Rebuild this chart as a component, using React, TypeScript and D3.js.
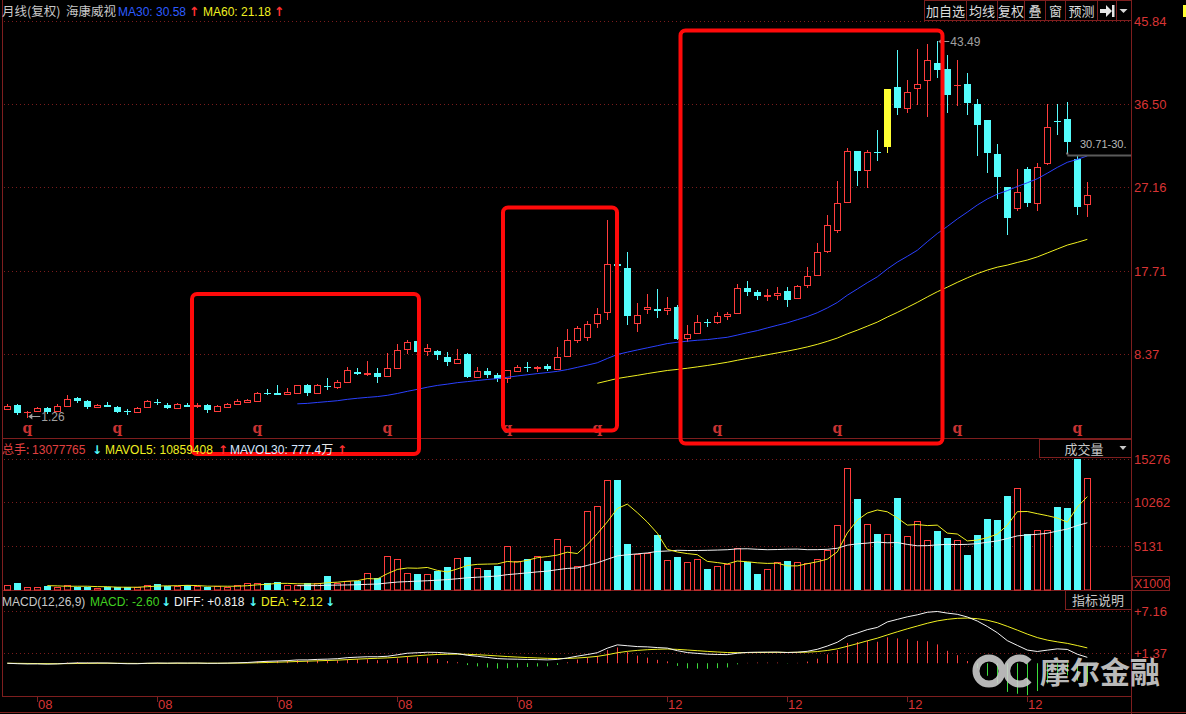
import React from 'react';
import * as d3 from 'd3';

// ---------------- DATA ----------------
const opens = [2.27,2.69,1.88,1.97,2.31,2.05,2.57,3.47,3.10,2.50,2.65,2.46,1.96,1.93,2.46,3.07,2.73,2.35,2.73,2.60,2.65,2.00,2.50,2.80,3.00,3.18,4.00,4.03,3.90,4.07,4.93,4.07,4.85,4.73,5.30,6.40,6.20,6.30,5.90,6.87,8.93,9.86,8.78,8.74,8.07,7.43,8.40,5.86,6.50,6.05,5.68,6.54,6.90,6.87,7.10,6.75,8.20,9.94,10.28,11.85,13.08,18.50,18.05,11.85,13.50,13.50,13.37,13.67,10.16,10.72,12.00,11.96,12.70,13.03,15.77,15.35,14.93,15.00,15.43,14.65,16.17,17.30,19.98,22.34,25.48,31.24,29.07,31.10,31.64,38.33,36.06,38.30,39.20,41.10,40.43,38.55,38.67,36.43,34.64,30.90,27.13,24.74,29.15,25.40,29.85,34.60,34.83,30.34,25.20];
const highs = [2.75,2.77,2.00,2.50,2.44,2.79,3.84,3.62,3.25,2.80,3.00,2.60,2.20,2.45,3.25,3.35,2.88,2.85,2.90,2.90,2.80,2.65,2.90,3.30,3.40,4.10,4.42,4.97,4.60,4.92,5.03,5.00,5.68,5.50,6.95,6.85,7.60,6.80,8.55,9.50,9.95,10.60,9.50,8.85,8.60,8.96,8.48,6.94,6.83,6.24,6.61,7.20,7.50,7.10,7.25,9.20,11.20,11.60,12.10,13.60,23.40,18.55,19.90,14.10,15.10,15.70,14.85,13.90,11.65,12.78,12.33,13.10,13.10,16.30,16.60,15.60,15.65,15.90,15.90,16.10,18.20,20.90,24.00,27.78,31.50,31.24,31.28,33.50,38.20,42.50,39.20,42.60,43.20,43.49,41.93,41.35,40.00,37.00,34.64,32.00,27.13,29.20,29.40,29.90,36.50,36.43,36.70,30.71,27.70];
const lows = [2.15,1.60,1.26,1.90,1.70,1.97,2.50,2.87,2.28,2.45,2.45,1.75,1.57,1.80,2.40,2.65,2.25,2.30,2.40,2.35,1.80,1.95,2.45,2.80,2.90,3.10,3.85,3.85,3.78,4.00,3.70,3.95,4.40,4.42,5.20,6.10,5.95,5.20,5.85,6.70,8.40,8.50,8.20,7.70,7.10,7.35,5.75,5.75,5.75,5.30,5.10,6.50,6.40,6.40,6.50,6.75,8.10,9.67,9.90,11.30,12.20,18.25,11.70,10.90,12.90,12.50,12.80,10.00,9.70,10.60,11.40,11.80,12.27,12.90,14.90,14.50,14.38,14.50,13.70,14.55,15.80,17.20,19.70,22.00,25.48,27.27,27.05,30.10,30.97,35.25,35.50,36.35,35.00,39.35,35.45,36.20,35.20,30.58,28.70,25.85,21.80,24.40,24.90,24.40,29.60,32.95,30.90,23.98,23.83];
const closes = [2.57,1.82,1.93,2.34,1.87,2.57,3.32,3.17,2.50,2.70,2.50,1.93,1.92,2.31,3.16,2.85,2.35,2.80,2.45,2.65,2.13,2.54,2.80,3.10,3.20,4.00,3.95,3.85,4.14,4.90,4.07,4.93,4.80,5.27,6.58,6.15,6.30,5.85,6.80,8.85,9.75,8.63,9.08,8.33,7.50,7.84,5.83,6.46,6.05,5.60,6.61,6.91,6.85,7.00,6.75,8.03,9.94,11.28,11.73,12.85,18.46,18.30,12.70,12.74,13.70,13.25,13.56,10.12,10.60,11.96,11.93,12.63,12.90,15.77,15.40,14.94,15.00,15.20,14.50,16.03,17.18,19.80,22.94,25.40,31.24,28.92,31.13,31.05,38.20,36.05,37.85,38.75,41.45,40.30,37.45,38.60,36.57,34.08,30.97,28.28,23.68,26.64,25.33,29.45,33.93,34.55,32.20,24.92,26.20];
// volume in thousands of shares (X1000)
const volumes = [600,867,404,404,555,450,636,440,400,330,400,370,400,404,636,750,520,480,600,520,400,520,440,600,830,900,830,980,600,600,830,830,1675,890,1155,1155,2045,1445,3950,3640,1990,1905,1905,2250,2715,3755,3870,2600,2405,2830,5165,3470,3640,3950,3470,6030,5165,2850,9190,9770,12885,12885,5455,4220,4300,6410,3525,3910,3290,3675,2520,2830,3100,4990,3255,1905,2485,3255,3410,3255,3140,3640,4760,7650,14240,10575,7765,6530,6610,10690,6380,8110,5915,6875,6065,5835,4100,6410,8260,8145,11035,11925,6530,6990,6990,9650,9535,15276,13078];
const highlightIndex = 88;
const tickIndex = [3, 15, 27, 39, 51, 66, 78, 90, 102];
const tickLabels = ['08', '08', '08', '08', '08', '12', '12', '12', '12'];
const priceTicks = [45.84, 36.50, 27.16, 17.71, 8.37];
const volTicks = [15276, 10262, 5131];
const macdTicks = [7.16, 1.37];
const macdTickLabels = ['+7.16', '+1.37'];
const qMarkIndex = [2, 11, 25, 38, 50, 59, 71, 83, 95, 107];
const toolbarLabels = ['加自选', '均线', '复权', '叠', '窗', '预测'];
const toolbarEdges = [924.5, 966.5, 997.5, 1024.5, 1045.5, 1065.5, 1097.5, 1116.5, 1131.5];
// legend readouts as shown in the reference
const legendMA = ['30.58', '21.18'];
const legendVol = ['13077765', '10859408', '777.4'];
const legendMacd = ['-2.60', '+0.818', '+2.12'];
const lastPriceLabel = '30.71-30.';

// ---------------- HELPERS ----------------
function movingAvg(arr: number[], n: number): (number | null)[] {
  return arr.map((_, i) => (i < n - 1 ? null : (d3.mean(arr.slice(i - n + 1, i + 1)) as number)));
}
function ema(arr: number[], n: number): number[] {
  const k = 2 / (n + 1);
  const out: number[] = [];
  arr.forEach((v, i) => out.push(i === 0 ? v : v * k + out[i - 1] * (1 - k)));
  return out;
}

const RED = '#ff3c3c';
const CYAN = '#54fcfc';
const GRID = '#7a1c1c';
const FRAME = '#7e1e1e';
const FONT = '"Liberation Sans", Arial, "Noto Sans CJK SC", sans-serif';
const CJK = '"Noto Sans CJK SC", "Liberation Sans", sans-serif';
const ARROWF = '"DejaVu Sans", sans-serif';

export default function App() {
  const n = closes.length;
  const x = d3.scaleLinear().domain([0, n - 1]).range([7.3, 1087.3]);
  const y = d3.scaleLinear().domain([8.37, 45.84]).range([354.3, 20.5]);
  const yv = d3.scaleLinear().domain([0, 15276]).range([590.5, 459]);
  const ym = d3.scaleLinear().domain([1.37, 7.16]).range([653.3, 611.3]);

  const ma30 = movingAvg(closes, 30);
  const ma60 = movingAvg(closes, 60);
  const mv5 = movingAvg(volumes, 5);
  const mv30 = movingAvg(volumes, 30);
  const e12 = ema(closes, 12);
  const e26 = ema(closes, 26);
  const diff = e12.map((v, i) => v - e26[i]);
  const dea = ema(diff, 9);
  const macd = diff.map((v, i) => 2 * (v - dea[i]));

  const lineGen = (sc: d3.ScaleLinear<number, number>) =>
    d3
      .line<number | null>()
      .defined((d) => d !== null)
      .x((_, i) => x(i))
      .y((d) => sc(d as number));

  const xc = (i: number) => Math.round(x(i));

  const candles = closes.map((c, i) => {
    const o = opens[i];
    const h = highs[i];
    const l = lows[i];
    const cx = xc(i) + 0.5;
    const top = Math.round(y(Math.max(o, c)));
    const bot = Math.round(y(Math.min(o, c)));
    const yh = Math.round(y(h));
    const yl = Math.round(y(l));
    const up = c >= o;
    if (i === highlightIndex) {
      return (
        <g key={i}>
          <line x1={cx} x2={cx} y1={yh} y2={yl} stroke="#ffff33" />
          <rect x={cx - 3.5} y={top} width={7} height={Math.max(1, bot - top)} fill="#ffff33" />
        </g>
      );
    }
    if (up) {
      if (bot - top < 2) {
        return (
          <g key={i}>
            <line x1={cx} x2={cx} y1={yh} y2={yl} stroke={RED} />
            <rect x={cx - 3.5} y={top} width={7} height={Math.max(1, bot - top + 1)} fill={RED} />
          </g>
        );
      }
      return (
        <g key={i}>
          <line x1={cx} x2={cx} y1={yh} y2={top} stroke={RED} />
          <line x1={cx} x2={cx} y1={bot} y2={yl} stroke={RED} />
          <rect x={cx - 3} y={top + 0.5} width={6} height={bot - top} fill="#000" stroke={RED} />
        </g>
      );
    }
    return (
      <g key={i}>
        <line x1={cx} x2={cx} y1={yh} y2={yl} stroke={CYAN} />
        <rect x={cx - 3.5} y={top} width={7} height={Math.max(1, bot - top)} fill={CYAN} />
      </g>
    );
  });

  const volBars = volumes.map((v, i) => {
    const cx = xc(i) + 0.5;
    const top = Math.round(yv(v));
    const base = 590;
    const up = closes[i] >= opens[i];
    if (up) {
      return <rect key={i} x={cx - 3} y={top + 0.5} width={6} height={base - top - 0.5} fill="#000" stroke={RED} />;
    }
    return <rect key={i} x={cx - 3.5} y={top} width={7} height={base - top} fill={CYAN} />;
  });

  const hist = macd.map((m, i) => {
    const cx = xc(i) + 0.5;
    return (
      <line key={i} x1={cx} x2={cx} y1={ym(0)} y2={ym(m)} stroke={m >= 0 ? RED : '#3cdc3c'} strokeWidth={1} />
    );
  });

  const gridLine = (yy: number, k: string) => (
    <line key={k} x1={4} x2={1131} y1={Math.round(yy) + 0.5} y2={Math.round(yy) + 0.5} stroke={GRID} strokeDasharray="1 3" />
  );

  const lowIdx = lows.indexOf(d3.min(lows) as number);
  const highIdx = highs.indexOf(d3.max(highs) as number);
  const lastLineY = Math.round(y(highs[n - 2])) + 0.5;

  return (
    <div style={{ position: 'absolute', left: 0, top: 0, width: 1186, height: 714, background: '#000' }}>
      <svg width={1186} height={714} style={{ display: 'block', background: '#000' }}>
        <rect x={0} y={0} width={1186} height={714} fill="#000" />

        {/* grid lines */}
        {priceTicks.map((p, i) => gridLine(y(p), 'pg' + i))}
        {volTicks.map((v, i) => gridLine(yv(v), 'vg' + i))}
        {macdTicks.map((v, i) => gridLine(ym(v), 'mg' + i))}

        {/* frame */}
        <line x1={2.5} x2={2.5} y1={0} y2={696} stroke={FRAME} />
        <line x1={1131.5} x2={1131.5} y1={0} y2={714} stroke={FRAME} />
        <line x1={2} x2={1132} y1={438.5} y2={438.5} stroke={FRAME} />
        <line x1={2} x2={1132} y1={590.5} y2={590.5} stroke={FRAME} />
        <line x1={2} x2={1132} y1={696.5} y2={696.5} stroke={FRAME} />
        <line x1={0} x2={1186} y1={712.5} y2={712.5} stroke={FRAME} />

        {/* x ticks */}
        {tickIndex.map((ti, k) => (
          <g key={'t' + k}>
            <line x1={xc(ti) + 0.5} x2={xc(ti) + 0.5} y1={697} y2={702} stroke={FRAME} />
            <text x={xc(ti) + 1} y={709} fill="#d83434" fontSize={13} fontFamily={FONT}>
              {tickLabels[k]}
            </text>
          </g>
        ))}

        {/* right axis labels */}
        {priceTicks.map((p, i) => (
          <text key={'pl' + i} x={1134} y={y(p) + 5} fill="#d83434" fontSize={13} fontFamily={FONT}>
            {p.toFixed(2)}
          </text>
        ))}
        {volTicks.map((v, i) => (
          <text key={'vl' + i} x={1134} y={yv(v) + 5} fill="#d83434" fontSize={13} fontFamily={FONT}>
            {v}
          </text>
        ))}
        {macdTicks.map((v, i) => (
          <text key={'ml' + i} x={1134} y={ym(v) + 5} fill="#d83434" fontSize={13} fontFamily={FONT}>
            {macdTickLabels[i]}
          </text>
        ))}
        <rect x={1132.5} y={576.5} width={37} height={14} fill="none" stroke={FRAME} />
        <text x={1134} y={588} fill="#d83434" fontSize={12.5} fontFamily={FONT}>X1000</text>

        {/* candles */}
        {candles}

        {/* MA lines */}
        <path d={lineGen(y)(ma30) || ''} fill="none" stroke="#2a40ff" strokeWidth={1} />
        <path d={lineGen(y)(ma60) || ''} fill="none" stroke="#f0f020" strokeWidth={1} />

        {/* q markers */}
        {qMarkIndex.map((qi, k) => (
          <text key={'q' + k} x={x(qi)} y={433} textAnchor="middle" fill="#c83232" fontSize={14} fontWeight="bold" fontFamily='"DejaVu Serif", serif'>
            q
          </text>
        ))}

        {/* low / high markers */}
        <line x1={x(lowIdx) + 2} x2={x(lowIdx) + 13} y1={416.5} y2={416.5} stroke="#a0a0a0" />
        <path d={`M${x(lowIdx) + 1},416.5 l4,-3 l0,6 z`} fill="#a0a0a0" />
        <text x={x(lowIdx) + 14} y={421} fill="#a0a0a0" fontSize={12} fontFamily={FONT}>{d3.min(lows)!.toFixed(2)}</text>

        <line x1={x(highIdx) + 2} x2={x(highIdx) + 12} y1={41.5} y2={41.5} stroke="#a0a0a0" />
        <path d={`M${x(highIdx) + 1},41.5 l4,-3 l0,6 z`} fill="#a0a0a0" />
        <text x={x(highIdx) + 13} y={46} fill="#a0a0a0" fontSize={12} fontFamily={FONT}>{d3.max(highs)!.toFixed(2)}</text>

        {/* last price line */}
        <line x1={x(n - 2) - 10} x2={1131} y1={lastLineY} y2={lastLineY} stroke="#5a5a5a" strokeWidth={2} />
        <rect x={x(n - 2) - 11} y={lastLineY - 3} width={2} height={2} fill="#909090" />
        <svg x={1078} y={136} width={53} height={16}>
          <text x={2} y={12} fill="#b8b8b8" fontSize={11} fontFamily={FONT}>
            {lastPriceLabel}
          </text>
        </svg>

        {/* red annotation boxes */}
        <rect x={192} y={294} width={227} height={160} rx={5} fill="none" stroke="#ff0a0a" strokeWidth={4} />
        <rect x={503} y={207.5} width={114} height={223} rx={5} fill="none" stroke="#ff0a0a" strokeWidth={4} />
        <rect x={680.5} y={30.5} width={262} height={413} rx={5} fill="none" stroke="#ff0a0a" strokeWidth={4} />

        {/* volume bars + mavol */}
        {volBars}
        <path d={lineGen(yv)(mv30) || ''} fill="none" stroke="#f0f0f0" strokeWidth={1} />
        <path d={lineGen(yv)(mv5) || ''} fill="none" stroke="#f0f020" strokeWidth={1} />

        {/* macd */}
        {hist}
        <path d={lineGen(ym)(dea) || ''} fill="none" stroke="#f0f020" strokeWidth={1} />
        <path d={lineGen(ym)(diff) || ''} fill="none" stroke="#f4f4f4" strokeWidth={1} />

        {/* header */}
        <text y={16} fontSize={12.5} fontFamily={CJK}>
          <tspan x={2} fill="#c8c8c8">月线(复权)</tspan>
          <tspan x={66} fill="#c8c8c8">海康威视</tspan>
          <tspan x={118} fill="#2d5cff" fontFamily={FONT} fontSize={12}>MA30: {legendMA[0]}</tspan>
          <tspan x={189} fill="#ff3030" fontFamily={ARROWF} fontWeight="bold">↑</tspan>
          <tspan x={203} fill="#f0f020" fontFamily={FONT} fontSize={12}>MA60: {legendMA[1]}</tspan>
          <tspan x={274} fill="#ff3030" fontFamily={ARROWF} fontWeight="bold">↑</tspan>
        </text>

        {/* toolbar */}
        {toolbarEdges.slice(0, -1).map((x0, k) => (
          <rect key={'tb' + k} x={x0} y={0.5} width={toolbarEdges[k + 1] - x0} height={20} fill="#000" stroke={FRAME} />
        ))}
        {toolbarLabels.map((t, k) => (
          <text key={'tl' + k} x={(toolbarEdges[k] + toolbarEdges[k + 1]) / 2} y={16} textAnchor="middle" fill="#dcdcdc" fontSize={13} fontFamily={CJK}>
            {t}
          </text>
        ))}
        <path d="M1100,9 h6 v-4 l6,6 l-6,6 v-4 h-6 z" fill="#e6e6e6" />
        <rect x={1112} y={5} width={2.5} height={12} fill="#e6e6e6" />
        <path d="M1119.5,9 h8 l-4,4 z" fill="#d8d8d8" />
        <rect x={1183} y={5} width={3} height={12} fill="#ffff33" />

        {/* volume header */}
        <text y={454} fontSize={12} fontFamily={CJK}>
          <tspan x={2} fill="#e04040">总手: </tspan>
          <tspan fill="#e04040" fontFamily={FONT}>{legendVol[0]}</tspan>
          <tspan x={92} fill={CYAN} fontFamily={ARROWF} fontWeight="bold">↓</tspan>
          <tspan x={105} fill="#f0f020" fontFamily={FONT}>MAVOL5: {legendVol[1]}</tspan>
          <tspan x={218} fill="#ff3030" fontFamily={ARROWF} fontWeight="bold">↑</tspan>
          <tspan x={230} fill="#d8e8ff" fontFamily={FONT}>MAVOL30: {legendVol[2]}</tspan>
          <tspan fill="#e8e8e8">万</tspan>
          <tspan x={337} fill="#ff3030" fontFamily={ARROWF} fontWeight="bold">↑</tspan>
        </text>
        <rect x={1039.5} y={439.5} width={92} height={18} fill="#000" stroke={FRAME} />
        <text x={1084} y={454} textAnchor="middle" fill="#c8c8c8" fontSize={13} fontFamily={CJK}>成交量</text>
        <path d="M1119.5,446 h7 l-3.5,4 z" fill="#c8c8c8" />

        {/* macd header */}
        <text y={606} fontSize={12} fontFamily={FONT}>
          <tspan x={2} fill="#c8c8c8">MACD(12,26,9)</tspan>
          <tspan x={90} fill="#40d020">MACD: {legendMacd[0]}</tspan>
          <tspan x={161} fill={CYAN} fontFamily={ARROWF} fontWeight="bold">↓</tspan>
          <tspan x={174} fill="#f0f0f0">DIFF: {legendMacd[1]}</tspan>
          <tspan x={248} fill={CYAN} fontFamily={ARROWF} fontWeight="bold">↓</tspan>
          <tspan x={261} fill="#f0f020">DEA: {legendMacd[2]}</tspan>
          <tspan x={325} fill={CYAN} fontFamily={ARROWF} fontWeight="bold">↓</tspan>
        </text>
        <rect x={1065.5} y={590.5} width={66} height={19} fill="#000" stroke={FRAME} />
        <text x={1098} y={605} textAnchor="middle" fill="#c8c8c8" fontSize={13} fontFamily={CJK}>指标说明</text>

        {/* watermark */}
        <g opacity={0.88}>
          <circle cx={989} cy={671} r={13} fill="none" stroke="#d0d0d0" strokeWidth={7} />
          <path d="M1029,662 A13,13 0 1 0 1029,680" fill="none" stroke="#d0d0d0" strokeWidth={7} />
          <text x={1040} y={683} fill="#d4d4d4" fontSize={30} fontWeight="bold" fontFamily={CJK}>摩尔金融</text>
        </g>
      </svg>
    </div>
  );
}
